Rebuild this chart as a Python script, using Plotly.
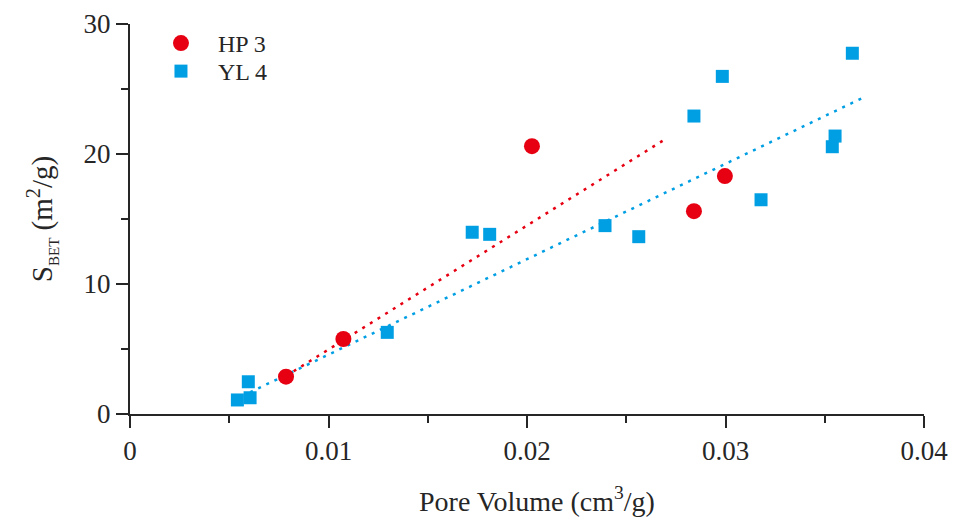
import plotly.graph_objects as go

# HP 3 samples
hp3_pv = [0.00786, 0.01075, 0.02025, 0.02841, 0.02997]
hp3_sbet = [2.87, 5.77, 20.6, 15.6, 18.3]

# YL 4 samples
yl4_pv = [0.00541, 0.00605, 0.00596, 0.01296, 0.01724, 0.01812, 0.02393,
          0.02563, 0.02841, 0.02984, 0.03179, 0.03538, 0.03552, 0.03639]
yl4_sbet = [1.08, 1.25, 2.48, 6.28, 13.98, 13.82, 14.49,
            13.64, 22.92, 25.97, 16.48, 20.56, 21.38, 27.75]

# trend line end points
hp3_trend_x = [0.00786, 0.02690]
hp3_trend_y = [2.92, 21.08]
yl4_trend_x = [0.00605, 0.03686]
yl4_trend_y = [1.67, 24.28]

x_ticks = [0, 0.01, 0.02, 0.03, 0.04]
x_ticktext = ["0", "0.01", "0.02", "0.03", "0.04"]
y_ticks = [0, 10, 20, 30]

RED = "#E60012"
BLUE = "#009FE3"
INK = "#262626"
FONT = "Liberation Serif"

fig = go.Figure()
fig.add_trace(go.Scatter(x=hp3_trend_x, y=hp3_trend_y, mode="lines",
                         line=dict(color=RED, width=2.5, dash="3px,6px"),
                         showlegend=False, hoverinfo="skip"))
fig.add_trace(go.Scatter(x=yl4_trend_x, y=yl4_trend_y, mode="lines",
                         line=dict(color=BLUE, width=2.5, dash="3px,6px"),
                         showlegend=False, hoverinfo="skip"))
fig.add_trace(go.Scatter(x=hp3_pv, y=hp3_sbet, mode="markers", name="HP 3",
                         legend="legend",
                         marker=dict(symbol="circle", size=16, color=RED,
                                     line=dict(width=0))))
fig.add_trace(go.Scatter(x=yl4_pv, y=yl4_sbet, mode="markers", name="YL 4",
                         legend="legend2",
                         marker=dict(symbol="square", size=13, color=BLUE,
                                     line=dict(width=0))))

axis_common = dict(
    showline=True, linecolor=INK, linewidth=2,
    ticks="outside", ticklen=12, tickwidth=2, tickcolor=INK,
    showgrid=False, zeroline=False,
    tickfont=dict(family=FONT, size=27, color=INK),
)

fig.update_xaxes(range=[0, 0.04], tickvals=x_ticks, ticktext=x_ticktext,
                 minor=dict(dtick=0.005, ticks="outside", ticklen=7,
                            tickwidth=2, tickcolor=INK, showgrid=False),
                 **axis_common)
fig.update_yaxes(range=[0, 30], tickvals=y_ticks,
                 minor=dict(dtick=5, ticks="outside", ticklen=7,
                            tickwidth=2, tickcolor=INK, showgrid=False),
                 title=dict(text="S<sub><span style='font-size:15px'>BET</span></sub> (m<sup>2</sup>/g)",
                            font=dict(family=FONT, size=29, color=INK),
                            standoff=22),
                 **axis_common)

# x-axis title placed as an annotation so it can sit where the reference has it
fig.add_annotation(text="Pore Volume (cm<sup>3</sup>/g)", xref="paper", yref="paper",
                   x=0.513, y=-0.22, xanchor="center", yanchor="middle",
                   showarrow=False,
                   font=dict(family=FONT, size=28, color=INK))

legend_common = dict(xanchor="left", yanchor="top", itemwidth=64,
                     yref="container",
                     font=dict(family=FONT, size=24, color=INK),
                     bgcolor="rgba(0,0,0,0)")
fig.update_layout(
    width=958, height=522,
    margin=dict(l=130, r=34, t=24, b=108, autoexpand=False),
    paper_bgcolor="white", plot_bgcolor="white",
    showlegend=True,
    legend=dict(x=0.0176, y=0.9598, **legend_common),
    legend2=dict(x=0.0176, y=0.9061, **legend_common),
)

fig.write_html("out.html")
